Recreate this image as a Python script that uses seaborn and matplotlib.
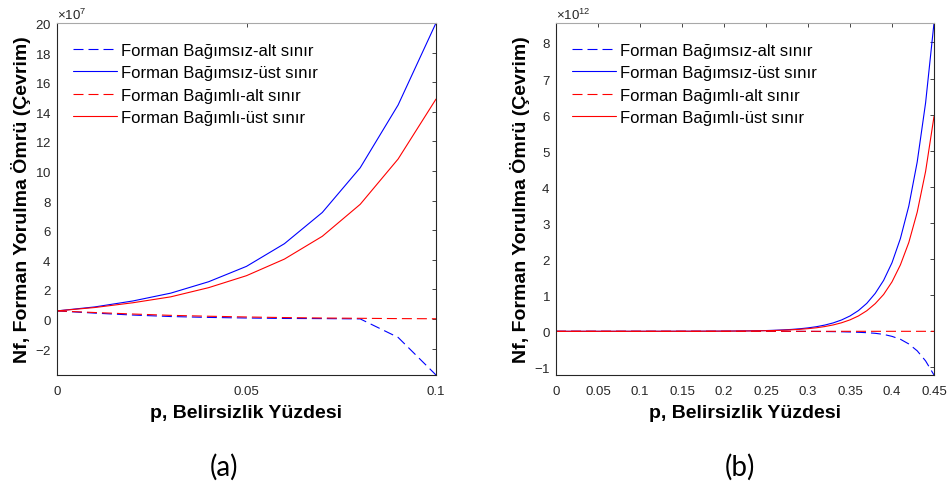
import numpy as np
import pandas as pd
import matplotlib
matplotlib.use("Agg")
import matplotlib.pyplot as plt
import seaborn as sns

# ---- data ---------------------------------------------------------------
# (a) p = 0 ... 0.10, fatigue life in units of 1e7 cycles
p_a = [0.00, 0.01, 0.02, 0.03, 0.04, 0.05, 0.06, 0.07, 0.08, 0.09, 0.10]
indep_lower_a = [0.55, 0.40, 0.27, 0.17, 0.11, 0.07, 0.04, 0.03, 0.01, -1.24, -3.78]
indep_upper_a = [0.55, 0.82, 1.22, 1.75, 2.52, 3.56, 5.09, 7.20, 10.22, 14.46, 20.00]
dep_lower_a = [0.55, 0.44, 0.34, 0.25, 0.19, 0.14, 0.10, 0.07, 0.05, 0.03, 0.02]
dep_upper_a = [0.55, 0.78, 1.10, 1.50, 2.12, 2.93, 4.05, 5.59, 7.75, 10.81, 14.86]
scale_a = 1e7

# (b) p = 0 ... 0.45, fatigue life in units of 1e12 cycles
p_b = [0.00, 0.01, 0.02, 0.03, 0.04, 0.05, 0.06, 0.07, 0.08, 0.09,
       0.10, 0.11, 0.12, 0.13, 0.14, 0.15, 0.16, 0.17, 0.18, 0.19,
       0.20, 0.21, 0.22, 0.23, 0.24, 0.25, 0.26, 0.27, 0.28, 0.29,
       0.30, 0.31, 0.32, 0.33, 0.34, 0.35, 0.36, 0.37, 0.38, 0.39,
       0.40, 0.41, 0.42, 0.43, 0.44, 0.45]
indep_lower_b = [0.00016, 0.00015, 0.00014, 0.00013, 0.00012, 0.00011, 0.00010, 0.00009, 0.00008, 0.00007,
                 0.00006, 0.00005, 0.00004, 0.00003, 0.00002, 0.00001, -0.00001, -0.00002, -0.00004, -0.00006,
                 -0.0001, -0.00015, -0.0002, -0.0003, -0.0004, -0.0006, -0.0008, -0.0011, -0.0015, -0.0020,
                 -0.0028, -0.004, -0.006, -0.009, -0.013, -0.019, -0.027, -0.038, -0.055, -0.085,
                 -0.14, -0.22, -0.35, -0.54, -0.82, -1.21]
indep_upper_b = [0.00016, 0.00018, 0.00020, 0.00023, 0.00026, 0.00030, 0.00035, 0.00041, 0.00048, 0.00057,
                 0.00068, 0.0008, 0.0010, 0.0012, 0.0015, 0.0019, 0.0023, 0.0029, 0.0036, 0.0046,
                 0.0058, 0.0075, 0.0097, 0.0125, 0.016, 0.021, 0.029, 0.039, 0.052, 0.070,
                 0.095, 0.128, 0.173, 0.233, 0.315, 0.425, 0.574, 0.775, 1.05, 1.41,
                 1.90, 2.57, 3.47, 4.69, 6.33, 8.54]
dep_lower_b = [0.00016, 0.00015, 0.00014, 0.00013, 0.00012, 0.00011, 0.00010, 0.00009, 0.00008, 0.00007,
               0.00006, 0.000055, 0.00005, 0.000045, 0.00004, 0.000035, 0.00003, 0.000028, 0.000026, 0.000024,
               0.000022, 0.00002, 0.000019, 0.000018, 0.000017, 0.000016, 0.000015, 0.000014, 0.000013, 0.000012,
               0.000011, 0.00001, 0.00001, 0.00001, 0.00001, 0.00001, 0.00001, 0.00001, 0.00001, 0.00001,
               0.00001, 0.00001, 0.00001, 0.00001, 0.00001, 0.00001]
dep_upper_b = [0.00016, 0.00018, 0.000198, 0.000225, 0.00025, 0.00029, 0.00033, 0.00039, 0.00045, 0.00053,
               0.00062, 0.00073, 0.0009, 0.0011, 0.0013, 0.0017, 0.0020, 0.0025, 0.0031, 0.0039,
               0.0049, 0.0063, 0.0080, 0.0102, 0.013, 0.017, 0.023, 0.031, 0.041, 0.055,
               0.074, 0.098, 0.132, 0.177, 0.237, 0.317, 0.425, 0.570, 0.766, 1.02,
               1.37, 1.84, 2.46, 3.30, 4.43, 5.95]
scale_b = 1e12

labels = ["Forman Bağımsız-alt sınır", "Forman Bağımsız-üst sınır",
          "Forman Bağımlı-alt sınır", "Forman Bağımlı-üst sınır"]
colors = ["#0000ff", "#0000ff", "#ff0000", "#ff0000"]
dash = (0, (9, 4.5))
styles = [dash, "-", dash, "-"]

a_yticks = [-2, 0, 2, 4, 6, 8, 10, 12, 14, 16, 18, 20]
a_xticks = [0, 0.05, 0.1]
a_xticklabels = ["0", "0.05", "0.1"]
b_yticks = [-1, 0, 1, 2, 3, 4, 5, 6, 7, 8]
b_xticks = [0, 0.05, 0.1, 0.15, 0.2, 0.25, 0.3, 0.35, 0.4, 0.45]
b_xticklabels = ["0", "0.05", "0.1", "0.15", "0.2", "0.25", "0.3", "0.35", "0.4", "0.45"]

xlabel = "p, Belirsizlik Yüzdesi"
ylabel = "Nf, Forman Yorulma Ömrü (Çevrim)"

# ---- style --------------------------------------------------------------
sns.set_theme(style="white")
plt.rcParams["font.family"] = ["Liberation Sans", "DejaVu Sans"]
plt.rcParams["mathtext.fontset"] = "custom"
plt.rcParams["mathtext.rm"] = "Liberation Sans"
plt.rcParams["axes.unicode_minus"] = False

fig = plt.figure(figsize=(9.5, 4.89), dpi=100)
fig.patch.set_facecolor("white")
axA = fig.add_axes([57 / 950, 113 / 489, 379 / 950, 352 / 489])
axB = fig.add_axes([556 / 950, 113 / 489, 378 / 950, 352 / 489])


def draw(ax, p, series, scale, xticks, xticklabels, yticks, exponent):
    p = np.asarray(p)
    for vals, lab, col, ls in zip(series, labels, colors, styles):
        y = np.asarray(vals) * scale
        sns.lineplot(x=p, y=y, ax=ax, color=col, linestyle=ls, linewidth=0.8,
                     label=lab, estimator=None, errorbar=None, sort=False)
    lo = min(min(s) for s in series) * scale
    hi = max(max(s) for s in series) * scale
    ax.set_xlim(p[0], p[-1])
    ax.set_ylim(lo, hi)
    ax.set_xticks(xticks)
    ax.set_xticklabels(xticklabels)
    ax.set_yticks(np.asarray(yticks) * scale)
    ax.ticklabel_format(axis="y", style="sci", scilimits=(exponent, exponent), useMathText=True)
    ax.yaxis.get_offset_text().set_fontsize(9.5)
    ax.yaxis.get_offset_text().set_color("#262626")
    ax.tick_params(direction="in", top=True, right=True, length=3.2, width=0.6,
                   color="#262626", labelcolor="#262626", labelsize=9.5)
    ax.tick_params(axis="x", pad=7)
    ax.tick_params(axis="y", pad=4)
    for side, sp in ax.spines.items():
        sp.set_visible(True)
        sp.set_linewidth(0.8)
        sp.set_color("#a8a8a8" if side == "top" else "#262626")
    ax.set_xlabel(xlabel, fontsize=14, fontweight="bold", color="black", labelpad=5)
    ax.set_ylabel(ylabel, fontsize=14, fontweight="bold", color="black", labelpad=3)
    leg = ax.legend(loc="upper left", bbox_to_anchor=(0.043, 0.944), frameon=False,
                    fontsize=12, handlelength=2.6, handletextpad=0.25,
                    labelspacing=0.45, borderpad=0, borderaxespad=0)
    for t in leg.get_texts():
        t.set_color("black")
    ax.set_facecolor("white")


draw(axA, p_a, [indep_lower_a, indep_upper_a, dep_lower_a, dep_upper_a],
     scale_a, a_xticks, a_xticklabels, a_yticks, 7)
draw(axB, p_b, [indep_lower_b, indep_upper_b, dep_lower_b, dep_upper_b],
     scale_b, b_xticks, b_xticklabels, b_yticks, 12)

fig.text(224 / 950, 1 - 467 / 489, "(a)", ha="center", va="center",
         fontsize=20, family=["Lato", "DejaVu Sans"], color="black")
fig.text(740 / 950, 1 - 467 / 489, "(b)", ha="center", va="center",
         fontsize=20, family=["Lato", "DejaVu Sans"], color="black")

fig.savefig("out.png", dpi=100, facecolor="white")
